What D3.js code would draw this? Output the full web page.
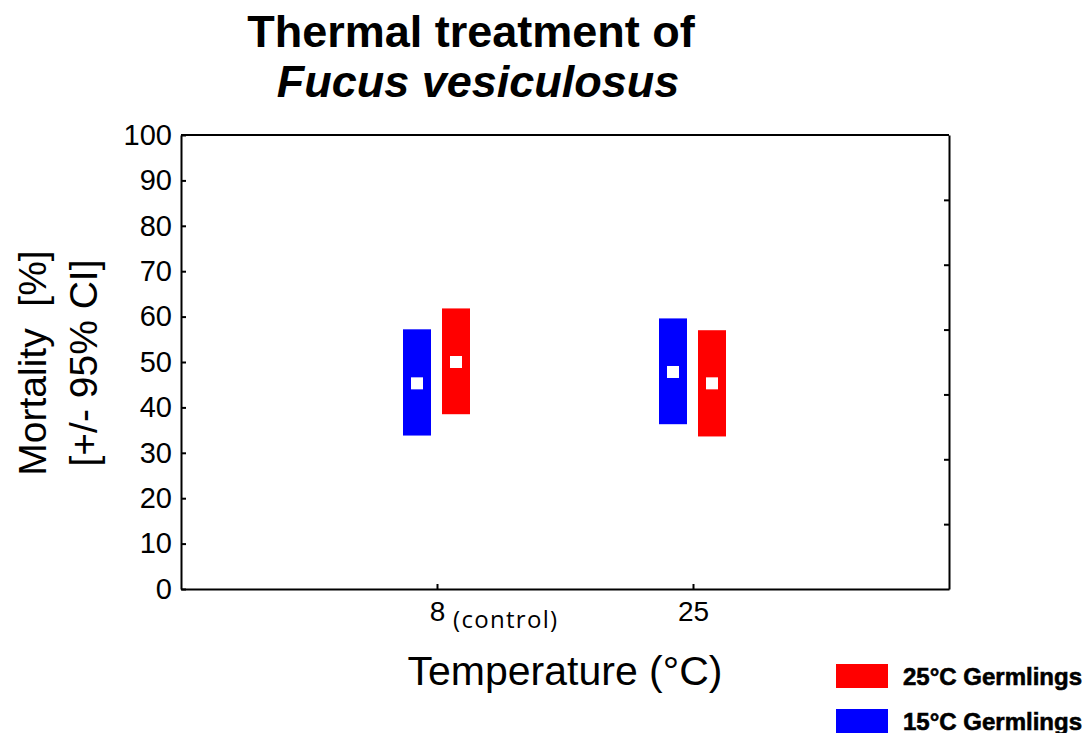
<!DOCTYPE html>
<html>
<head>
<meta charset="utf-8">
<script src="https://cdn.jsdelivr.net/npm/d3@7"></script>
<style>
  body { margin: 0; background: #fff; }
  svg { display: block; font-family: "Liberation Sans", Arial, sans-serif; }
</style>
</head>
<body>
<svg id="chart" width="1090" height="733"></svg>
<script>
// temperatures on the x axis
const temps = ["8", "25"];
const tempNotes = ["(control)", ""];
// germling groups
const groups = ["15°C Germlings", "25°C Germlings"];
const groupColors = ["#0000ff", "#ff0000"];
// mortality means and 95% CI bounds, one value per temperature
const mean15 = [45.3, 47.8];
const low15 = [33.8, 36.3];
const high15 = [57.2, 59.6];
const mean25 = [50.0, 45.3];
const low25 = [38.5, 33.6];
const high25 = [61.8, 57.0];
const yTicks = [0, 10, 20, 30, 40, 50, 60, 70, 80, 90, 100];

const svg = d3.select("#chart");
const margin = { top: 135, right: 141, bottom: 144, left: 181 };
const width = 1090 - margin.left - margin.right;
const height = 733 - margin.top - margin.bottom;

const ctr = svg.append("g").attr("transform", `translate(${margin.left},${margin.top})`);

const x = d3.scalePoint().domain(temps).range([0, width]).padding(1);
const y = d3.scaleLinear().domain([0, 100]).range([height, 0]);
const offset = d3.scalePoint().domain(groups).range([-20, 19]);
const barW = 28;

// rows for the bars
const rows = [];
temps.forEach((t, i) => {
  rows.push({ temp: t, group: groups[0], mean: mean15[i], low: low15[i], high: high15[i], color: groupColors[0] });
  rows.push({ temp: t, group: groups[1], mean: mean25[i], low: low25[i], high: high25[i], color: groupColors[1] });
});

// frame: top line
ctr.append("line").attr("x1", 0).attr("x2", width).attr("y1", 0).attr("y2", 0)
  .attr("stroke", "#000").attr("stroke-width", 2);

// right axis has its own 7 unlabelled divisions
const yRight = d3.axisRight(y)
  .tickValues(d3.range(1, 7).map((i) => (i * 100) / 7))
  .tickSizeInner(-5).tickSizeOuter(0).tickFormat("");
ctr.append("g").attr("transform", `translate(${width},0)`).call(yRight)
  .call((g) => g.selectAll("line, path").attr("stroke", "#000").attr("stroke-width", 2));

const yAxis = d3.axisLeft(y).tickValues(yTicks).tickSizeInner(-5).tickSizeOuter(0).tickPadding(9);
ctr.append("g").call(yAxis)
  .call((g) => g.selectAll("line, path").attr("stroke", "#000").attr("stroke-width", 2))
  .call((g) => g.selectAll("text").attr("font-size", 29).attr("fill", "#000")
    .attr("font-family", "'Liberation Sans', Arial, sans-serif"));

const xAxis = d3.axisBottom(x).tickSizeInner(-5).tickSizeOuter(0).tickPadding(12);
ctr.append("g").attr("transform", `translate(0,${height})`).call(xAxis)
  .call((g) => g.selectAll("line, path").attr("stroke", "#000").attr("stroke-width", 2))
  .call((g) => g.selectAll("text").attr("font-size", 28).attr("fill", "#000")
    .attr("font-family", "'Liberation Sans', Arial, sans-serif"));

// small note after the tick label
ctr.selectAll(".note")
  .data(temps.filter((t, i) => tempNotes[i]))
  .join("text")
  .attr("class", "note")
  .attr("x", (d) => x(d) + 16)
  .attr("y", height + 39)
  .attr("font-family", "'Open Sans', sans-serif")
  .attr("font-size", 24)
  .attr("letter-spacing", 1.3)
  .text((d) => tempNotes[temps.indexOf(d)]);

// CI bars
ctr.selectAll(".ci")
  .data(rows)
  .join("rect")
  .attr("class", "ci")
  .attr("x", (d) => x(d.temp) + offset(d.group) - barW / 2)
  .attr("y", (d) => y(d.high))
  .attr("width", barW)
  .attr("height", (d) => y(d.low) - y(d.high))
  .attr("fill", (d) => d.color);

// mean markers
ctr.selectAll(".mean")
  .data(rows)
  .join("rect")
  .attr("class", "mean")
  .attr("x", (d) => x(d.temp) + offset(d.group) - 6)
  .attr("y", (d) => y(d.mean) - 6)
  .attr("width", 12)
  .attr("height", 12)
  .attr("fill", "#fff");

// title
svg.append("text").attr("x", 471).attr("y", 47).attr("text-anchor", "middle")
  .attr("font-size", 45).attr("font-weight", "bold").text("Thermal treatment of");
svg.append("text").attr("x", 478).attr("y", 97).attr("text-anchor", "middle")
  .attr("font-size", 45).attr("font-weight", "bold").attr("font-style", "italic")
  .text("Fucus vesiculosus");

// axis titles
const yLab = svg.append("text")
  .attr("transform", "translate(0,363) rotate(-90)")
  .attr("text-anchor", "middle").attr("font-size", 39);
yLab.append("tspan").attr("x", 0).attr("y", 46).attr("xml:space", "preserve").text("Mortality  [%]");
yLab.append("tspan").attr("x", 0).attr("y", 97).text("[+/- 95% CI]");

svg.append("text").attr("x", 565).attr("y", 685).attr("text-anchor", "middle")
  .attr("font-size", 41).text("Temperature (°C)");

// legend, 25°C first
const legendItems = [1, 0].map((i) => ({ label: groups[i], color: groupColors[i] }));
const legend = svg.append("g").attr("transform", "translate(836,664)");
const li = legend.selectAll("g").data(legendItems).join("g")
  .attr("transform", (d, i) => `translate(0,${i * 45})`);
li.append("rect").attr("width", 52).attr("height", 24).attr("fill", (d) => d.color);
li.append("text").attr("x", 67).attr("y", 21).attr("font-size", 24).attr("font-weight", "bold")
  .attr("stroke", "#000").attr("stroke-width", 0.6)
  .text((d) => d.label);
</script>
</body>
</html>
